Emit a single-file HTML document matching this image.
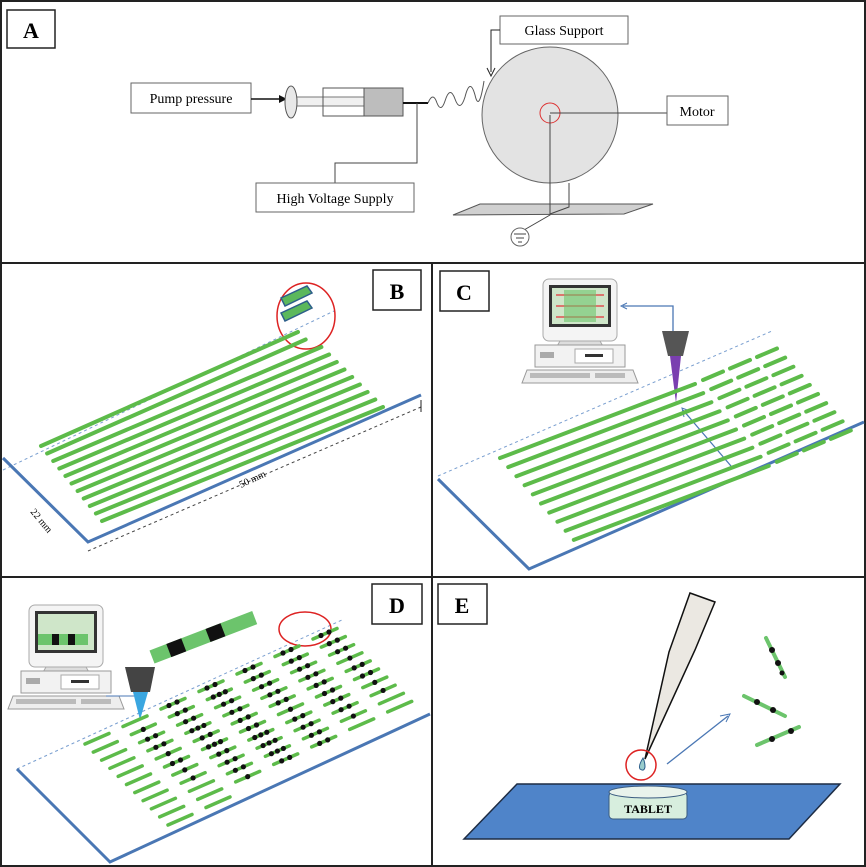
<!DOCTYPE html>
<html><head><meta charset="utf-8"><style>
html,body{margin:0;padding:0;background:#fff}
svg{display:block}
text{font-family:"Liberation Serif",serif}
</style></head><body>
<svg id="fig" width="866" height="867" viewBox="0 0 866 867" xmlns="http://www.w3.org/2000/svg">
<defs>
<g id="computer">
 <rect x="543" y="279" width="74" height="62" rx="6" fill="#f4f4f4" stroke="#aaa"/>
 <rect x="549" y="285" width="62" height="42" fill="#333"/>
 <rect x="552" y="288" width="56" height="36" fill="#cfe6c9"/>
 <path d="M560,341 L600,341 L604,348 L556,348Z" fill="#ddd" stroke="#aaa"/>
 <rect x="535" y="345" width="90" height="22" fill="#f2f2f2" stroke="#999"/>
 <rect x="540" y="352" width="14" height="6" fill="#aaa"/>
 <rect x="575" y="349" width="38" height="14" fill="#fff" stroke="#aaa"/>
 <rect x="585" y="354" width="18" height="3" fill="#333"/>
 <path d="M527,370 L633,370 L638,383 L522,383Z" fill="#eee" stroke="#999"/>
 <rect x="530" y="373" width="60" height="5" fill="#bbb"/>
 <rect x="595" y="373" width="30" height="5" fill="#bbb"/>
</g>
</defs>
<rect x="1" y="1" width="864" height="865" fill="#fff" stroke="#222" stroke-width="2"/>
<line x1="0" y1="263" x2="866" y2="263" stroke="#222" stroke-width="2"/>
<line x1="0" y1="577" x2="866" y2="577" stroke="#222" stroke-width="2"/>
<line x1="432" y1="263" x2="432" y2="867" stroke="#222" stroke-width="2"/>

<!-- Panel A -->
<g>
 <rect x="7" y="10" width="48" height="38" fill="#fff" stroke="#222" stroke-width="1.5"/>
 <text x="31" y="38" font-size="22" font-weight="bold" text-anchor="middle">A</text>
 <rect x="131" y="83" width="120" height="30" fill="#fff" stroke="#666"/>
 <text x="191" y="103" font-size="14" text-anchor="middle">Pump pressure</text>
 <line x1="251" y1="99" x2="283" y2="99" stroke="#111" stroke-width="1.5"/>
 <path d="M279,95 L287,99 L279,103Z" fill="#111"/>
 <rect x="291" y="97" width="75" height="9" fill="#f0f0f0" stroke="#777"/>
 <ellipse cx="291" cy="102" rx="6" ry="16" fill="#e8e8e8" stroke="#555"/>
 <rect x="323" y="88" width="41" height="28" fill="none" stroke="#555"/>
 <rect x="364" y="88" width="39" height="28" fill="#bdbdbd" stroke="#555"/>
 <line x1="403" y1="103" x2="428" y2="103" stroke="#111" stroke-width="2"/>
 <path d="M428,103 q5,-12 9,0 q4,10 8,-2 q5,-16 10,-2 q5,14 10,-2 q5,-20 10,-2 q4,18 9,-14" fill="none" stroke="#555"/>
 <path d="M486,97 L490,82 L494,84 L490,98Z" fill="#e02020"/>
 <circle cx="550" cy="115" r="68" fill="#e3e3e3" stroke="#666"/>
 <circle cx="550" cy="113" r="10" fill="none" stroke="#d33"/>
 <line x1="550" y1="113" x2="667" y2="113" stroke="#444"/>
 <rect x="667" y="96" width="61" height="29" fill="#fff" stroke="#666"/>
 <text x="697" y="116" font-size="14" text-anchor="middle">Motor</text>
 <rect x="500" y="16" width="128" height="28" fill="#fff" stroke="#666"/>
 <text x="564" y="35" font-size="14" text-anchor="middle">Glass Support</text>
 <path d="M500,30 L491,30 L491,72" fill="none" stroke="#222"/>
 <path d="M487,68 L491,76 L495,68" fill="none" stroke="#222"/>
 <path d="M417,103 L417,163 L335,163 L335,183" fill="none" stroke="#444"/>
 <rect x="256" y="183" width="158" height="29" fill="#fff" stroke="#666"/>
 <text x="335" y="203" font-size="14" text-anchor="middle">High Voltage Supply</text>
 <path d="M453,215 L480,204 L653,204 L624,214Z" fill="#d0d0d0" stroke="#555"/>
 <path d="M569,183 L569,207 L550,214" fill="none" stroke="#444"/>
 <path d="M550,115 L550,215 L524,230" fill="none" stroke="#444"/>
 <circle cx="520" cy="237" r="9" fill="#fff" stroke="#666"/>
 <path d="M514,234 h12 M516,238 h8 M518,242 h4" stroke="#444"/>
</g>

<!-- Panel B -->
<g id="pb">
 <rect x="373" y="270" width="48" height="40" fill="#fff" stroke="#222" stroke-width="1.5"/>
 <text x="397" y="299" font-size="22" font-weight="bold" text-anchor="middle">B</text>
 <line x1="3" y1="470" x2="334" y2="311" stroke="#7a9fd0" stroke-dasharray="3,3"/>
 <line x1="88" y1="551" x2="421" y2="407" stroke="#444" stroke-dasharray="3,3"/>
 <line x1="421" y1="400" x2="421" y2="412" stroke="#222"/>
 <path d="M3,458 L88,542 L421,395" fill="none" stroke="#4a77b4" stroke-width="3"/>
 <text x="0" y="0" font-size="10" font-family="Liberation Sans" transform="translate(30,512) rotate(50)">22 mm</text>
 <text x="0" y="0" font-size="10" font-family="Liberation Sans" transform="translate(241,488) rotate(-25)">50 mm</text>
 <ellipse cx="306" cy="316" rx="29" ry="33" fill="none" stroke="#d22" stroke-width="1.5"/>
 <path d="M281,298 L307,286 L312,293 L285,306Z" fill="#5cb85c" stroke="#2d5e8a" stroke-width="1.5"/>
 <path d="M281,313 L307,301 L312,308 L285,321Z" fill="#5cb85c" stroke="#2d5e8a" stroke-width="1.5"/>
</g>

<!-- Panel C -->
<g id="pc">
 <rect x="440" y="271" width="49" height="40" fill="#fff" stroke="#222" stroke-width="1.5"/>
 <text x="464" y="300" font-size="22" font-weight="bold" text-anchor="middle">C</text>
 <line x1="438" y1="476" x2="772" y2="331" stroke="#7a9fd0" stroke-dasharray="3,3"/>
 <path d="M438,479 L529,569 L864,422" fill="none" stroke="#4a77b4" stroke-width="3"/>
 <use href="#computer"/>
 <path d="M556,295 h48 M556,306 h48 M556,317 h48" stroke="#e05050" stroke-width="1.5"/>
 <rect x="564" y="290" width="32" height="32" fill="#6cc46c" opacity="0.6"/>
 <path d="M673,331 L673,306 L623,306" fill="none" stroke="#4a77b4" stroke-width="1.3"/>
 <path d="M627,303 L621,306 L627,309" fill="none" stroke="#4a77b4"/>
 <path d="M662,331 L689,331 L683,356 L668,356Z" fill="#555"/>
 <path d="M670,356 L681,356 L676,403Z" fill="#7a3fb0"/>
 <line x1="731" y1="466" x2="683" y2="410" stroke="#4a77b4" stroke-width="1.3"/>
 <path d="M684,417 L682,408 L690,411" fill="none" stroke="#4a77b4"/>
</g>

<!-- Panel D -->
<g id="pd">
 <rect x="372" y="584" width="50" height="40" fill="#fff" stroke="#222" stroke-width="1.5"/>
 <text x="397" y="613" font-size="22" font-weight="bold" text-anchor="middle">D</text>
 <line x1="17" y1="769" x2="342" y2="620" stroke="#7a9fd0" stroke-dasharray="3,3"/>
 <path d="M17,769 L110,862 L430,714" fill="none" stroke="#4a77b4" stroke-width="3"/>
 <g transform="translate(-514,326)"><use href="#computer"/></g>
 <rect x="38" y="634" width="50" height="11" fill="#6cc46c"/>
 <rect x="52" y="634" width="7" height="11" fill="#111"/><rect x="68" y="634" width="7" height="11" fill="#111"/>
 <path d="M140,690 L140,696 L106,696" fill="none" stroke="#4a77b4"/>
 <path d="M125,667 L155,667 L150,692 L131,692Z" fill="#444"/>
 <path d="M133,692 L148,692 L140,720Z" fill="#3aa6e0"/>
 <g transform="translate(152,657) rotate(-21)">
  <rect x="0" y="-7" width="110" height="14" fill="#6cc46c"/>
  <rect x="18" y="-7" width="16" height="14" fill="#111"/><rect x="60" y="-7" width="16" height="14" fill="#111"/>
 </g>
 <ellipse cx="305" cy="629" rx="26" ry="17" fill="none" stroke="#d22" stroke-width="1.5"/>
</g>

<!-- Panel E -->
<g>
 <rect x="438" y="584" width="49" height="40" fill="#fff" stroke="#222" stroke-width="1.5"/>
 <text x="462" y="613" font-size="22" font-weight="bold" text-anchor="middle">E</text>
 <path d="M464,839 L517,784 L840,784 L789,839Z" fill="#4f84c9" stroke="#1d2c44" stroke-width="1.5"/>
 <rect x="609" y="792" width="78" height="27" rx="4" fill="#d7eede" stroke="#3a5b80"/>
 <ellipse cx="648" cy="792" rx="39" ry="6" fill="#e9f3ec" stroke="#3a5b80"/>
 <text x="648" y="813" font-size="12" font-weight="bold" text-anchor="middle">TABLET</text>
 <path d="M690,593 L715,602 L695,650 L645,759 L669,652Z" fill="#ebe8e2" stroke="#111" stroke-width="1.5"/>
 <circle cx="641" cy="765" r="15" fill="none" stroke="#d22" stroke-width="1.5"/>
 <path d="M643,758 q-5,8 -3,11 q4,3 5,-2 q0,-5 -2,-9Z" fill="#9cc" stroke="#2a5d8a"/>
 <line x1="667" y1="764" x2="728" y2="716" stroke="#4a77b4" stroke-width="1.3"/>
 <path d="M720,716 L730,714 L726,722" fill="none" stroke="#4a77b4"/>
 <g stroke-linecap="round" stroke-width="4">
  <line x1="766" y1="638" x2="785" y2="677" stroke="#6cc46c"/>
  <line x1="744" y1="696" x2="785" y2="716" stroke="#6cc46c"/>
  <line x1="757" y1="745" x2="799" y2="727" stroke="#6cc46c"/>
 </g>
 <g fill="#111">
  <circle cx="772" cy="650" r="3"/><circle cx="778" cy="663" r="3"/><circle cx="782" cy="673" r="2.5"/>
  <circle cx="757" cy="702" r="3"/><circle cx="773" cy="710" r="3"/>
  <circle cx="772" cy="739" r="3"/><circle cx="791" cy="731" r="3"/>
 </g>
</g>
<g id="strips"></g>
</svg>
<script>
// Panel B strips: 11 parallel lines
const bRows = [0,1,2,3,4,5,6,7,8,9,10];
const bEndShift = [0,0,1,1,1,1,1,1,1,1,1];
// Panel C: 10 long lines + 3 columns of short dashes
const cRows = [0,1,2,3,4,5,6,7,8,9];
const cCols = [0,1,2];
// Panel D: grid of 11 rows x 7 columns with dot counts
const dRows = [0,1,2,3,4,5,6,7,8,9,10];
const dCols = [0,1,2,3,4,5,6];
const dDots = [
 [0,0,2,2,2,2,2],[0,1,2,3,2,2,2],[0,2,2,2,2,2,2],[0,2,3,2,2,2,1],[0,1,2,2,2,2,2],
 [0,2,3,2,1,2,2],[0,1,2,3,2,2,1],[0,1,2,3,2,2,1],[0,0,2,3,2,1,0],[0,0,1,2,2,0,0],[0,0,2,0,0,0,0]];
const NS='http://www.w3.org/2000/svg';
const g=document.getElementById('strips');
function line(x1,y1,x2,y2,w,name){
 const l=document.createElementNS(NS,'line');
 l.setAttribute('x1',x1);l.setAttribute('y1',y1);l.setAttribute('x2',x2);l.setAttribute('y2',y2);
 l.setAttribute('stroke','#5dbb4a');l.setAttribute('stroke-width',w);l.setAttribute('stroke-linecap','round');
 
 
 g.appendChild(l);
}
bRows.forEach((r,i)=>{
 const sx=41+6.1*r, sy=446+7.5*r;
 const ex=298+7.7*r+bEndShift[i]*8, ey=332+7.5*r;
 line(sx,sy,ex,ey,4,'fiber-b');
});
cRows.forEach(r=>{
 const sx=500+8.2*r, sy=458+9.1*r;
 const ex=sx+195, ey=sy-74;
 line(sx,sy,ex,ey,4,'fiber-c');
 cCols.forEach(c=>{
  const dx=ex+8+c*27, dy=ey-4-c*11.5;
  line(dx,dy,dx+20,dy-8.5,4,'fiber-c-segment');
 });
});
dRows.forEach((r,ri)=>{
 dCols.forEach((c,ci)=>{
  if(r===10 && c>1) return;
  const sx=85+8.3*r+c*38, sy=744+8.1*r-c*17.5;
  line(sx,sy,sx+24,sy-10.5,3.5,'fiber-d-segment');
  const n=dDots[ri][ci];
  for(let k=0;k<n;k++){
   const t=(k+1)/(n+1);
   const d=document.createElementNS(NS,'circle');
   d.setAttribute('cx',sx+24*t);d.setAttribute('cy',sy-10.5*t);d.setAttribute('r',2.6);d.setAttribute('fill','#111');
   
   
   g.appendChild(d);
  }
 });
});
</script>
</body></html>
